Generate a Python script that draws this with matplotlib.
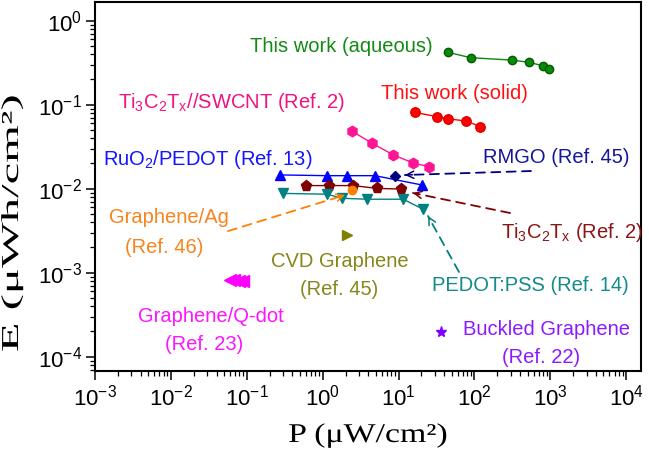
import matplotlib
matplotlib.use('Agg')
import matplotlib.pyplot as plt
from matplotlib.patheffects import AbstractPathEffect
from matplotlib.transforms import Affine2D

# ---------------- data ----------------
aq_P = [45, 89, 309, 522, 806, 957]
aq_E = [0.42, 0.363, 0.34, 0.32, 0.29, 0.264]

solid_P = [16.4, 32.4, 45, 76.6, 120]
solid_E = [0.081, 0.072, 0.068, 0.064, 0.055]

swcnt_P = [2.41, 4.43, 8.36, 15.6, 25.1]
swcnt_E = [0.0486, 0.035, 0.0255, 0.0202, 0.0183]

ruo2_P = [0.273, 1.13, 2.11, 4.89, 20.1]
ruo2_E = [0.0146, 0.0143, 0.0143, 0.0143, 0.0111]

rmgo_P = [8.97]
rmgo_E = [0.0143]

ti3c2_P = [0.603, 1.22, 2.53, 5.14, 10.8]
ti3c2_E = [0.0109, 0.0109, 0.0109, 0.0101, 0.0099]

ag_P = [2.41]
ag_E = [0.0097]

pedot_P = [0.303, 1.15, 1.78, 3.80, 11.5, 21.1]
pedot_E = [0.0088, 0.0086, 0.0077, 0.0075, 0.0075, 0.0057]

cvd_P = [2.07]
cvd_E = [0.00281]

qdot_P = [0.0601, 0.0678, 0.0789, 0.0891]
qdot_E = [0.00082, 0.00081, 0.00080, 0.00079]

buckled_P = [35.9]
buckled_E = [0.000199]

x_ticks = [1e-3, 1e-2, 1e-1, 1e0, 1e1, 1e2, 1e3, 1e4]
y_ticks = [1e-4, 1e-3, 1e-2, 1e-1, 1e0]


class Stretch(AbstractPathEffect):
    """Stretch glyph outlines along the text direction (about their centre)."""
    def __init__(self, sx):
        super().__init__()
        self.sx = sx

    def draw_path(self, renderer, gc, tpath, affine, rgbFace=None):
        ext = tpath.get_extents()
        cx = 0.5 * (ext.x0 + ext.x1)
        t = Affine2D().translate(-cx, 0).scale(self.sx, 1).translate(cx, 0) + affine
        renderer.draw_path(gc, tpath, t, rgbFace)


plt.rcParams['font.family'] = ['Liberation Sans', 'DejaVu Sans']
plt.rcParams['mathtext.default'] = 'regular'
plt.rcParams['axes.unicode_minus'] = False

fig = plt.figure(figsize=(6.49, 4.57), dpi=100)
ax = fig.add_axes([95 / 649, 1 - 371 / 457, 546 / 649, 369 / 457])
ax.set_xscale('log')
ax.set_yscale('log')
ax.set_xlim(1e-3, 10 ** 4.194)
ax.set_ylim(10 ** -4.170, 10 ** 0.223)
ax.set_xticks(x_ticks)
ax.set_yticks(y_ticks)

for s in ax.spines.values():
    s.set_linewidth(1.5)
ax.tick_params(which='major', direction='out', length=6.5, width=1.1,
               labelsize=16, pad=3, top=False, right=False)
ax.tick_params(which='minor', direction='out', length=3.6, width=0.9,
               top=False, right=False)

# ---------------- series ----------------
ax.plot(aq_P, aq_E, '-o', color='#0a8a0a', mec='#035a03', ms=6, lw=1)
ax.plot(solid_P, solid_E, '-o', color='#ff0000', mec='#e00000', ms=6.8, lw=1)
ax.plot(swcnt_P, swcnt_E, '-h', color='#ff1493', ms=7.5, lw=1)
ax.plot(ruo2_P, ruo2_E, '-^', color='#0000ff', ms=7.5, lw=1)
ax.plot(ti3c2_P, ti3c2_E, '-p', color='#800000', ms=8, lw=1)
ax.plot(pedot_P, pedot_E, '-v', color='#008080', ms=7.5, lw=1)
ax.plot(ag_P, ag_E, 'o', color='#ff8000', ms=6)
ax.plot(rmgo_P, rmgo_E, 'D', color='#000080', ms=5.2)
ax.plot(cvd_P, cvd_E, '>', color='#808000', ms=6.5)
ax.plot(qdot_P, qdot_E, '<', color='#ff00ff', ms=8, lw=0)
ax.plot(buckled_P, buckled_E, '*', color='#8000ff', ms=8)

# ---------------- labels ----------------
fs = 14.5
def lab(x, y, s, c):
    ax.text(x, y, s, color=c, fontsize=fs, ha='center', va='baseline',
            transform=ax.transAxes)

lab(0.4505, 0.8637, 'This work (aqueous)', '#138a13')
lab(0.6575, 0.7363, 'This work (solid)', '#ff1010')
lab(0.249, 0.7127, r'Ti$_3$C$_2$T$_x$//SWCNT (Ref. 2)', '#f01480')
lab(0.207, 0.5583, r'RuO$_2$/PEDOT (Ref. 13)', '#1414ff')
lab(0.8443, 0.5629, 'RMGO (Ref. 45)', '#16169a')
lab(0.8736, 0.3596, r'Ti$_3$C$_2$T$_x$ (Ref. 2)', '#8b1414')
lab(0.1355, 0.4024, 'Graphene/Ag', '#f7841c')
lab(0.1264, 0.3198, '(Ref. 46)', '#f7841c')
lab(0.4487, 0.2821, 'CVD Graphene', '#86861a')
lab(0.4469, 0.2060, '(Ref. 45)', '#86861a')
lab(0.2125, 0.1336, 'Graphene/Q-dot', '#ff14ff')
lab(0.1996, 0.0569, '(Ref. 23)', '#ff14ff')
lab(0.7967, 0.2176, 'PEDOT:PSS (Ref. 14)', '#148a8a')
lab(0.8278, 0.0976, 'Buckled Graphene', '#8c1aff')
lab(0.8168, 0.0217, '(Ref. 22)', '#8c1aff')

# ---------------- dashed pointer arrows ----------------
def pointer(tail, tip, c):
    ax.annotate('', xy=tip, xytext=tail,
                arrowprops=dict(arrowstyle='-', linestyle=(0, (5, 3.5)),
                                color=c, lw=1.3, shrinkA=0, shrinkB=0))
    # short solid part for the open arrow head
    fx = (tip[0] / tail[0]) ** 0.06
    fy = (tip[1] / tail[1]) ** 0.06
    ax.annotate('', xy=tip, xytext=(tip[0] / fx, tip[1] / fy),
                arrowprops=dict(arrowstyle='->', color=c, lw=1.1,
                                mutation_scale=13, shrinkA=0, shrinkB=0))

pointer((555, 0.01625), (12.1, 0.01456), '#000080')
pointer((294, 0.00514), (15.5, 0.00889), '#800000')
pointer((62.5, 0.00102), (24.4, 0.00473), '#008080')
pointer((0.0565, 0.00313), (1.97, 0.00841), '#ff8000')

# ---------------- axis titles ----------------
ax.set_xlabel('P (μW/cm²)', fontsize=19.5, family='Liberation Serif',
              va='baseline', path_effects=[Stretch(1.25)])
ax.xaxis.set_label_coords(0.5, -0.1924)
ax.set_ylabel('E (μWh/cm²)', fontsize=17.5, family='Liberation Serif',
              va='center', path_effects=[Stretch(2.0)])
ax.yaxis.set_label_coords(-0.152, 0.3997)

fig.savefig('out.png', dpi=100, facecolor='white')
